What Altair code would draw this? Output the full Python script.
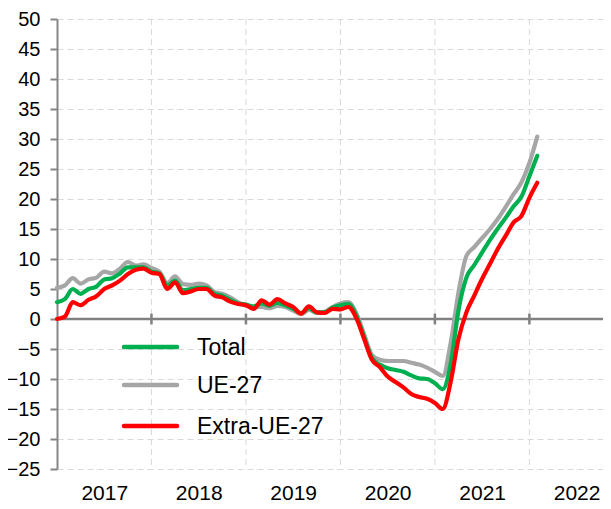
import altair as alt
import pandas as pd

# Monthly series, Jan 2017 .. Feb 2022 (62 months)
start_year = 2017
n_months = 62

total = [2.8, 3.3, 5.0, 4.2, 5.0, 5.4, 6.6, 6.8, 7.6, 8.6, 8.6, 8.6,
         7.9, 7.6, 5.6, 6.4, 4.8, 5.0, 5.2, 5.2, 4.2, 3.9, 3.2, 2.6,
         2.4, 2.1, 2.6, 2.2, 2.7, 2.3, 1.7, 1.0, 1.8, 1.1, 1.1, 1.9,
         2.3, 2.5, 0.6, -3.0, -6.5, -7.6, -8.2, -8.5, -8.8, -9.4, -9.9, -10.0,
         -10.7, -11.7, -7.5, 1.5, 6.9, 9.0, 11.1, 13.2, 15.1, 16.9, 18.8, 20.4,
         23.8, 27.2]

ue27 = [5.2, 5.6, 6.8, 5.9, 6.6, 6.9, 7.9, 7.6, 8.4, 9.5, 8.9, 9.1,
        8.5, 7.9, 6.0, 7.1, 5.8, 5.7, 5.9, 5.6, 4.5, 4.2, 3.6, 2.8,
        2.2, 2.0, 2.0, 1.8, 2.2, 2.0, 1.4, 0.8, 1.5, 1.0, 1.2, 2.0,
        2.6, 2.8, 1.0, -2.5, -6.0, -6.8, -7.0, -7.0, -7.0, -7.3, -7.6, -8.1,
        -8.8, -9.5, -4.0, 4.5, 10.5, 12.0, 13.5, 15.0, 16.7, 18.7, 20.8, 22.8,
        26.0, 30.4]

extra_ue27 = [0.0, 0.4, 2.8, 2.3, 3.2, 3.8, 5.0, 5.6, 6.4, 7.5, 8.2, 8.4,
              7.7, 7.5, 5.0, 6.1, 4.3, 4.6, 5.0, 5.0, 3.9, 3.6, 2.9, 2.5,
              2.3, 1.7, 3.1, 2.4, 3.3, 2.6, 2.0, 0.9, 2.1, 1.1, 1.0, 1.7,
              1.6, 2.0, 0.2, -3.3, -6.8, -8.0, -9.6, -10.5, -11.4, -12.5, -13.0, -13.3,
              -14.0, -15.0, -10.5, -3.3, 1.1, 3.9, 6.7, 9.2, 11.7, 13.9, 16.1, 17.2,
              20.2, 22.7]

series_names = ["UE-27", "Total", "Extra-UE-27"]   # drawing order
series_values = [ue27, total, extra_ue27]
series_colors = ["#A6A6A6", "#00B050", "#FF0000"]

legend_names = ["Total", "UE-27", "Extra-UE-27"]
legend_colors = ["#00B050", "#A6A6A6", "#FF0000"]

years = [2017, 2018, 2019, 2020, 2021, 2022]
y_ticks = list(range(-25, 51, 5))

FONT = "Liberation Sans"
W, H = 546, 450
X_MAX = 69.35

month_idx = list(range(n_months))
year_mid = [(y - start_year) * 12 + 6 for y in years]
year_bounds = [(y - start_year) * 12 for y in years[1:]]

xscale = alt.Scale(domain=[0, X_MAX], nice=False, zero=False)
yscale = alt.Scale(domain=[-25, 50], nice=False, zero=False)

xaxis = alt.Axis(values=year_mid, grid=False, ticks=False, domain=False,
                 labelExpr=f"toString({start_year} + floor(datum.value / 12))",
                 labelFontSize=21, labelFont=FONT, labelColor="#000000",
                 labelOverlap=False, labelPadding=13, title=None)
yaxis = alt.Axis(values=y_ticks, grid=True, gridDash=[6, 4], gridColor="#D9D9D9",
                 gridWidth=1, domainColor="#868686", domainWidth=2,
                 tickColor="#868686", tickWidth=2, tickSize=7,
                 labelFontSize=20, labelFont=FONT, labelColor="#000000",
                 labelOverlap=False, labelBound=False, labelFlush=False,
                 labelPadding=10, title=None)


def X(field):
    return alt.X(field, type="quantitative", scale=xscale, axis=xaxis)


def Y(field):
    return alt.Y(field, type="quantitative", scale=yscale, axis=yaxis)


axis_df = pd.DataFrame({"m": year_mid, "v": [0] * len(year_mid)})
base = alt.Chart(axis_df).mark_point(opacity=0).encode(x=X("m"), y=Y("v"))

vgrid = alt.Chart(pd.DataFrame({"m": year_bounds})).mark_rule(
    color="#D9D9D9", strokeWidth=1, strokeDash=[6, 4]
).encode(x=X("m"))

zero = alt.Chart(pd.DataFrame({"v": [0]})).mark_rule(
    color="#808080", strokeWidth=2.5
).encode(y=Y("v"))

zticks = alt.Chart(pd.DataFrame({"m": year_bounds, "lo": [-0.9] * len(year_bounds),
                                 "hi": [0.9] * len(year_bounds)})).mark_rule(
    color="#808080", strokeWidth=2.5
).encode(x=X("m"), y=Y("lo"), y2="hi:Q")

lines = []
for name, vals, col in zip(series_names, series_values, series_colors):
    df = pd.DataFrame({"m": month_idx, "v": vals, "s": name})
    lines.append(
        alt.Chart(df).mark_line(color=col, strokeWidth=4.2, interpolate="monotone",
                                strokeCap="round", strokeJoin="round").encode(
            x=X("m"), y=Y("v"))
    )

legend_layers = []
leg_y = [328, 366, 407]
for name, col, yy in zip(legend_names, legend_colors, leg_y):
    d = pd.DataFrame({"label": [name]})
    legend_layers.append(
        alt.Chart(d).mark_rule(color=col, strokeWidth=4.5, strokeCap="round").encode(
            x=alt.value(67), x2=alt.value(120), y=alt.value(yy))
    )
    legend_layers.append(
        alt.Chart(d).mark_text(align="left", baseline="middle", fontSize=23, font=FONT,
                               color="#000000").encode(
            x=alt.value(140), y=alt.value(yy + 1), text="label:N")
    )

chart = alt.layer(base, vgrid, zero, zticks, *lines, *legend_layers).properties(
    width=W, height=H,
    padding={"left": 49, "top": 11, "right": 0, "bottom": 34},
    autosize=alt.AutoSizeParams(type="none"),
).configure_view(stroke=None)

chart.save("out.html", embed_options={"renderer": "svg", "actions": False})
